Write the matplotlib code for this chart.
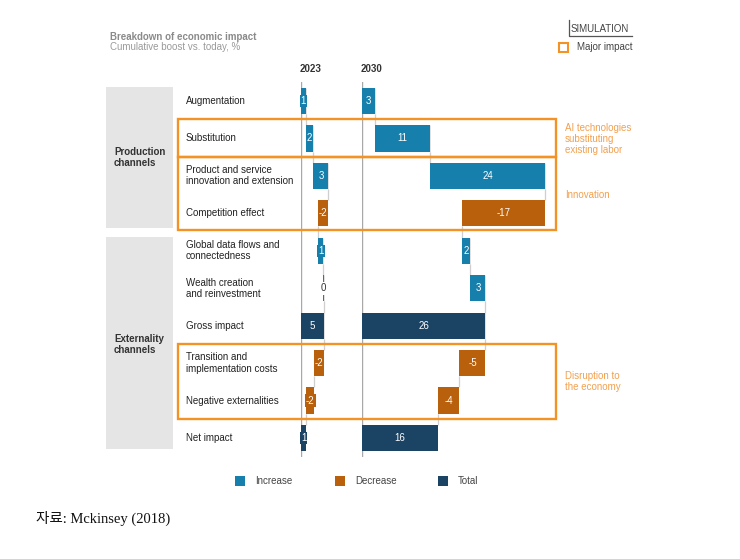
import matplotlib
matplotlib.use("Agg")
import matplotlib.pyplot as plt
from matplotlib.patches import Rectangle
from matplotlib.lines import Line2D

# ---------------- data ----------------
rows = ["Augmentation", "Substitution",
        "Product and service\ninnovation and extension", "Competition effect",
        "Global data flows and\nconnectedness", "Wealth creation\nand reinvestment",
        "Gross impact", "Transition and\nimplementation costs",
        "Negative externalities", "Net impact"]
kinds = ["inc", "inc", "inc", "dec", "inc", "inc", "total", "dec", "dec", "total"]
v2023 = [1.0, 1.6, 3.1, -2.1, 1.0, 0.2, None, -2.0, -1.7, None]
v2030 = [2.7, 11.4, 24.1, -17.3, 1.7, 3.1, None, -5.4, -4.4, None]
lab2023 = ["1", "2", "3", "-2", "1", "0", "5", "-2", "-2", "1"]
lab2030 = ["3", "11", "24", "-17", "2", "3", "26", "-5", "-4", "16"]
years = ["2023", "2030"]
groups = ["Production\nchannels", "Externality\nchannels"]
notes = ["AI technologies\nsubstituting\nexisting labor", "Innovation", "Disruption to\nthe economy"]
legend_labels = ["Increase", "Decrease", "Total"]

colors = {"inc": "#167FAC", "dec": "#B8600B", "total": "#1A4364"}
ORANGE = "#F39325"
ORANGE_TXT = "#F2A04E"

W, H = 740, 559
fig = plt.figure(figsize=(7.4, 5.59), dpi=100)
plt.rcParams['font.family'] = ['Liberation Sans', 'DejaVu Sans']

def fx(x):
    return x / W

def fy(y):
    return 1 - y / H

PXU = 4.8          # pixels per unit
ROW0, ROWSTEP = 101, 37.44
TOP, BOT = 82, 457

def make_ax(left_px, xmax):
    ax = fig.add_axes([fx(left_px), fy(BOT), xmax * PXU / W, (BOT - TOP) / H])
    ax.set_xlim(0, xmax)
    ax.set_ylim((BOT - ROW0) / ROWSTEP, (TOP - ROW0) / ROWSTEP)
    ax.axis("off")
    ax.patch.set_alpha(0)
    return ax

def waterfall(ax, vals, labs):
    ax.axvline(0, color="#A8A8A8", lw=1.0, zorder=1)
    cum = 0.0
    ends = []
    for i, (k, v, lb) in enumerate(zip(kinds, vals, labs)):
        if k == "total":
            start, width = 0.0, cum
        else:
            start, width = cum, v
            cum += v
        c = colors[k]
        ax.barh(i, width, left=start, height=0.7, color=c, zorder=3)
        ends.append(cum)
        cx = start + width / 2
        if lb == "0":
            ax.text(cx, i, lb, ha="center", va="center", fontsize=7, color="#333333",
                    zorder=5, bbox=dict(boxstyle="square,pad=0.15", fc="white", ec="none"))
        elif abs(width) < 1.8:
            ax.text(cx, i, lb, ha="center", va="center", fontsize=7, color="white",
                    zorder=5, bbox=dict(boxstyle="square,pad=0.12", fc=c, ec="none"))
        else:
            ax.text(cx, i, lb, ha="center", va="center", fontsize=7, color="white", zorder=5)
    for i in range(len(vals) - 1):
        ax.vlines(ends[i], i + 0.35, i + 0.65, color="#CFCFCF", lw=0.9, zorder=2)
        ax.vlines(ends[i], i - 0.35, i + 0.35, color="#DADADA", lw=0.6, zorder=2)

ax1 = make_ax(301, 11)
ax2 = make_ax(362, 40)
waterfall(ax1, v2023, lab2023)
waterfall(ax2, v2030, lab2030)

# year headers
fig.text(fx(300), fy(69), years[0], fontsize=7, fontweight="bold", color="#333333", va="center")
fig.text(fx(361), fy(69), years[1], fontsize=7, fontweight="bold", color="#333333", va="center")

# title
fig.text(fx(110), fy(37), "Breakdown of economic impact", fontsize=7, fontweight="bold",
         color="#8A8A8A", va="center")
fig.text(fx(110), fy(47.5), "Cumulative boost vs. today, %", fontsize=7, color="#9A9A9A", va="center")

# grey group boxes
fig.patches.append(Rectangle((fx(106), fy(228)), fx(173) - fx(106), (228 - 87) / H,
                             transform=fig.transFigure, fc="#E5E5E5", ec="none", zorder=0))
fig.patches.append(Rectangle((fx(106), fy(449)), fx(173) - fx(106), (449 - 237) / H,
                             transform=fig.transFigure, fc="#E5E5E5", ec="none", zorder=0))
fig.text(fx(114), fy(157.5), groups[0], fontsize=7, fontweight="bold", color="#333333",
         va="center", linespacing=1.15)
fig.text(fx(114), fy(344.5), groups[1], fontsize=7, fontweight="bold", color="#333333",
         va="center", linespacing=1.15)

# row labels
for i, r in enumerate(rows):
    fig.text(fx(186), fy(ROW0 + i * ROWSTEP), r, fontsize=7, color="#222222",
             va="center", linespacing=1.15)

# orange boxes
for (y0, y1) in [(119.5, 157), (157, 230), (344, 418.5)]:
    fig.patches.append(Rectangle((fx(177.5), fy(y1)), fx(555.5) - fx(177.5), (y1 - y0) / H,
                                 transform=fig.transFigure, fc="none", ec=ORANGE, lw=1.7, zorder=10))
fig.text(fx(565), fy(139), notes[0], fontsize=7, color=ORANGE_TXT, va="center", linespacing=1.15)
fig.text(fx(565), fy(195), notes[1], fontsize=7, color=ORANGE_TXT, va="center")
fig.text(fx(565), fy(381.5), notes[2], fontsize=7, color=ORANGE_TXT, va="center", linespacing=1.15)

# top-right legend
fig.lines.append(Line2D([fx(568.5), fx(568.5), fx(632)], [fy(20), fy(36), fy(36)],
                        transform=fig.transFigure, color="#555555", lw=0.9))
fig.text(fx(571), fy(28.5), "SIMULATION", fontsize=7, color="#444444", va="center")
fig.patches.append(Rectangle((fx(559), fy(51.5)), 9 / W, 9 / H, transform=fig.transFigure,
                             fc="none", ec=ORANGE, lw=1.5))
fig.text(fx(577), fy(47.5), "Major impact", fontsize=7, color="#444444", va="center")

# bottom legend
for (x, k, lb) in [(235, "inc", legend_labels[0]), (335, "dec", legend_labels[1]),
                   (438, "total", legend_labels[2])]:
    fig.patches.append(Rectangle((fx(x), fy(486)), 10 / W, 10 / H, transform=fig.transFigure,
                                 fc=colors[k], ec="none"))
    fig.text(fx(x + 20), fy(481.5), lb, fontsize=7, color="#444444", va="center")

# source
fig.text(fx(36), fy(518), "자료: Mckinsey (2018)", fontsize=10.5, color="#111111", va="center",
         family=["Liberation Serif", "Noto Sans CJK KR"])

fig.savefig("out.png", dpi=100)
